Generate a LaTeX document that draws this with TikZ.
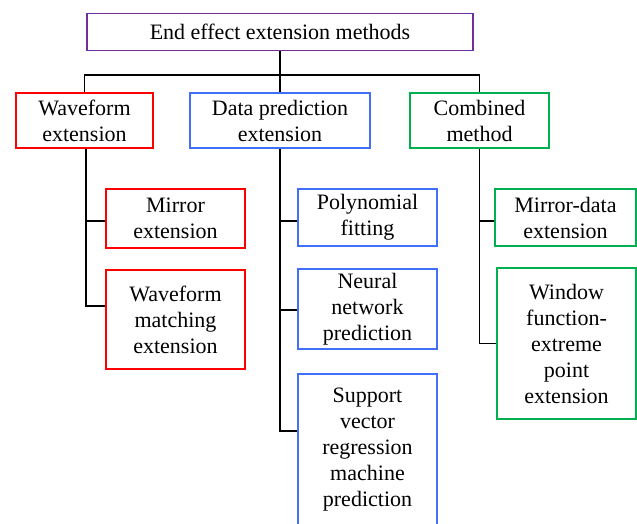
\documentclass[tikz,border=0pt]{standalone}
\usepackage{fontspec}
\setmainfont{Liberation Serif}
\definecolor{cpurple}{RGB}{112,48,160}
\definecolor{cred}{RGB}{255,0,0}
\definecolor{cblue}{RGB}{65,110,250}
\definecolor{cgreen}{RGB}{0,176,80}
\tikzset{
  box/.style={draw, line width=1.5pt, fill=white, inner sep=0pt, align=center,
    font=\fontsize{22}{26}\selectfont},
  link/.style={draw=black, line width=1.5pt},
}
\begin{document}
\begin{tikzpicture}[x=1pt,y=-1pt]
\useasboundingbox (0,0) rectangle (637,523);
\clip (0,0) rectangle (637,523);
\fill[white] (0,0) rectangle (637,523);
% nodes
\node[box, draw=cpurple, minimum width=386pt, minimum height=37pt] (top) at (280,32) {End effect extension methods};
\node[box, draw=cred, minimum width=137pt, minimum height=55pt] (wave) at (84.5,120.5) {Waveform\\extension};
\node[box, draw=cblue, minimum width=180pt, minimum height=55pt] (data) at (280,120.5) {Data prediction\\extension};
\node[box, draw=cgreen, minimum width=139pt, minimum height=55pt] (comb) at (479.5,120.5) {Combined\\method};
\node[box, draw=cred, minimum width=139pt, minimum height=59pt] (mirror) at (175.5,218.5) {Mirror\\extension};
\node[box, draw=cred, minimum width=139pt, minimum height=99pt] (match) at (175.5,319.5) {Waveform\\matching\\extension};
\node[box, draw=cblue, minimum width=139pt, minimum height=57pt] (poly) at (367.5,217.5) {Polynomial\\fitting};
\node[box, draw=cblue, minimum width=139pt, minimum height=80pt] (neural) at (367.5,309) {Neural\\network\\prediction};
\node[box, draw=cblue, minimum width=139pt, minimum height=152pt] (svr) at (367.5,450) {Support\\vector\\regression\\machine\\prediction};
\node[box, draw=cgreen, minimum width=141pt, minimum height=57pt] (mdata) at (565.5,217.5) {Mirror-data\\extension};
\node[box, draw=cgreen, minimum width=139pt, minimum height=151pt] (window) at (566.5,343.5) {Window\\function-\\extreme\\point\\extension};
% bus
\coordinate (bus) at (280,75);
\draw[link] (top.south) -- (bus);
\draw[link] (wave.north) -- (wave.north |- bus) -- (comb.north |- bus) -- (comb.north);
\draw[link] (bus) -- (data.north);
% branch points
\coordinate (b1) at ([yshift=-2.5pt]mirror.west);
\coordinate (b2) at ([yshift=13.5pt]match.west);
\coordinate (b3) at ([yshift=-3.5pt]poly.west);
\coordinate (b4) at ([yshift=-1pt]neural.west);
\coordinate (b5) at ([yshift=19pt]svr.west);
\coordinate (b6) at ([yshift=-3.5pt]mdata.west);
\coordinate (b7) at (window.west);
% left group
\draw[link] ([xshift=1.5pt]wave.south) |- (b2);
\draw[link] ([xshift=1.5pt]wave.south |- b1) -- (b1);
% middle group
\draw[link] (data.south) |- (b5);
\draw[link] (data.south |- b3) -- (b3);
\draw[link] (data.south |- b4) -- (b4);
% right group
\draw[link] (comb.south) |- (b7);
\draw[link] (comb.south |- b6) -- (b6);
\end{tikzpicture}
\end{document}
